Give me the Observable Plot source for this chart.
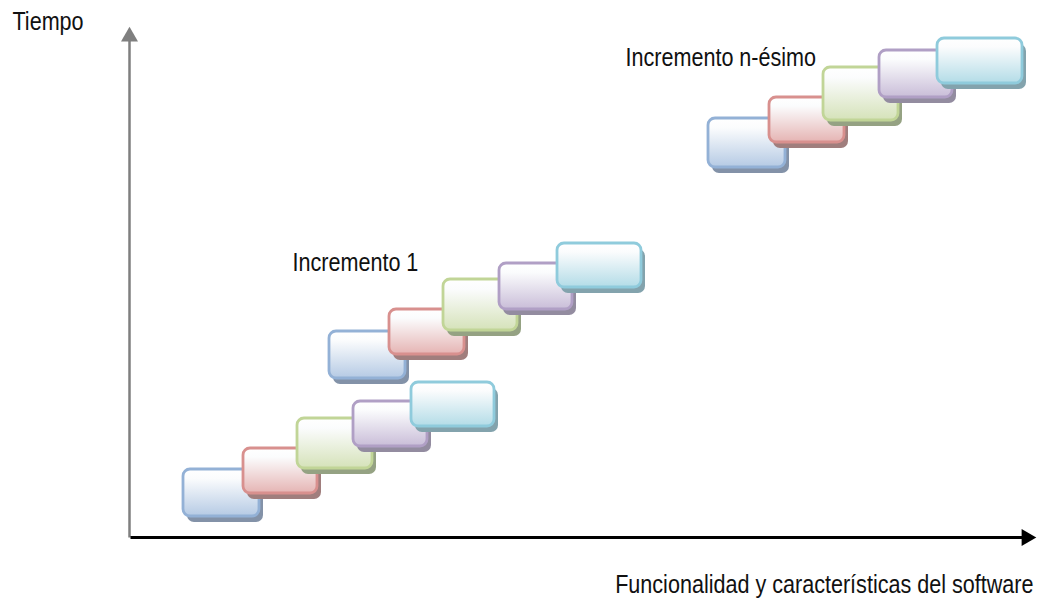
<!DOCTYPE html>
<html>
<head>
<meta charset="utf-8">
<script src="https://cdn.jsdelivr.net/npm/d3@7"></script>
<script src="https://cdn.jsdelivr.net/npm/@observablehq/plot@0.6"></script>
<style>
  html, body { margin: 0; padding: 0; background: #fff; }
  #chart svg { display: block; font-family: "Liberation Sans", Arial, sans-serif; }
</style>
</head>
<body>
<div id="chart"></div>
<script>
// Phases inside every increment (colour order, left to right)
const fases = ["Análisis", "Diseño", "Código", "Prueba", "Entrega"];
const bordes = ["#93b1d6", "#d8908e", "#c1d597", "#b09fc5", "#8fcbdc"];
const rellenos = ["#b5cae4", "#e5b4b3", "#d5e2b9", "#c9bdd8", "#b3dce7"];
const sombras = ["#8392a8", "#a07e7d", "#95a283", "#938ca0", "#83a3ad"];

// Boxes of each increment: [x1, x2, yTop, yBottom] per phase (diagram units)
const incrementoBase = [[183, 259, 469, 516], [243, 317, 448, 493], [297, 372, 418, 468], [353, 427, 401, 446], [411, 494, 382, 426]];
const incremento1    = [[329, 405, 331, 378], [389, 464, 309, 354], [443, 517, 279, 330], [499, 572, 263, 309], [557, 641, 243, 287]];
const incrementoN    = [[708, 785, 118, 167], [769, 844, 97, 142], [823, 898, 67, 120], [879, 952, 50, 97], [937, 1022, 38, 83]];
const incrementos = [incrementoBase, incremento1, incrementoN];

// Axes
const ejeX = [{x1: 130, x2: 1024, y1: 537, y2: 537}];
const ejeY = [{x1: 129, x2: 129, y1: 537, y2: 40}];
const flechas = [{x: 1026, y: 537, rot: 90, c: "#000"}, {x: 129, y: 36, rot: 0, c: "#7f7f7f"}];

// Labels
const etiquetasIzq = [
  {x: 12, y: 29, text: "Tiempo"},
  {x: 292, y: 270, text: "Incremento 1"},
  {x: 625, y: 65, text: "Incremento n-ésimo"}
];
const etiquetasDer = [
  {x: 1033, y: 592, text: "Funcionalidad y características del software"}
];

const cajas = fases.map((f, i) => incrementos.map((inc, k) => ({fase: f, inc: k, x1: inc[i][0], x2: inc[i][1], y1: inc[i][2], y2: inc[i][3]})));

function defs() {
  const d = d3.create("svg:defs");
  fases.forEach((f, i) => {
    const g = d.append("linearGradient").attr("id", "grad" + i).attr("x1", 0).attr("y1", 0).attr("x2", 0).attr("y2", 1);
    g.append("stop").attr("offset", "0%").attr("stop-color", "#ffffff");
    g.append("stop").attr("offset", "20%").attr("stop-color", "#fbfcfd");
    g.append("stop").attr("offset", "100%").attr("stop-color", rellenos[i]);
  });
  const fl = d.append("filter").attr("id", "blur").attr("x", "-10%").attr("y", "-10%").attr("width", "130%").attr("height", "130%");
  fl.append("feGaussianBlur").attr("stdDeviation", 0.6);
  return d.node();
}

const marks = [defs];
fases.forEach((f, i) => {
  marks.push(Plot.rect(cajas[i], {x1: "x1", x2: "x2", y1: "y1", y2: "y2", dx: 4, dy: 6, rx: 7, fill: sombras[i], ariaDescription: "sombra"}));
  marks.push(Plot.rect(cajas[i], {x1: "x1", x2: "x2", y1: "y1", y2: "y2", rx: 7, fill: `url(#grad${i})`, stroke: bordes[i], strokeWidth: 2.8}));
});
marks.push(Plot.link(ejeY, {x1: "x1", x2: "x2", y1: "y1", y2: "y2", stroke: "#7f7f7f", strokeWidth: 2.5}));
marks.push(Plot.link(ejeX, {x1: "x1", x2: "x2", y1: "y1", y2: "y2", stroke: "#000", strokeWidth: 3}));
marks.push(Plot.dot(flechas, {x: "x", y: "y", symbol: "triangle", r: 6.3, rotate: "rot", fill: "c", stroke: null}));
marks.push(Plot.text(etiquetasIzq, {x: "x", y: "y", text: "text", textAnchor: "start", lineAnchor: "bottom", fontSize: 26, fill: "#111", ariaDescription: "etiqueta"}));
marks.push(Plot.text(etiquetasDer, {x: "x", y: "y", text: "text", textAnchor: "end", lineAnchor: "bottom", fontSize: 26, fill: "#111", ariaDescription: "etiqueta"}));

const chart = Plot.plot({
  width: 1039,
  height: 600,
  margin: 0,
  x: {domain: [0, 1039], axis: null},
  y: {domain: [600, 0], axis: null},
  color: {type: "identity"},
  marks
});
d3.select(chart).selectAll('g[aria-description="sombra"]').attr("filter", "url(#blur)");
// condensed (narrow) face: squeeze the glyphs horizontally around their anchor
const condensar = 0.83;
d3.select(chart).selectAll('g[aria-description="etiqueta"] text').each(function() {
  const t = this.getAttribute("transform");
  if (t) {
    this.setAttribute("transform", t + ` scale(${condensar},1)`);
  } else {
    const x = +(this.getAttribute("x") || 0);
    this.setAttribute("transform", `translate(${x},0) scale(${condensar},1) translate(${-x},0)`);
  }
});
document.getElementById("chart").appendChild(chart);
</script>
</body>
</html>
